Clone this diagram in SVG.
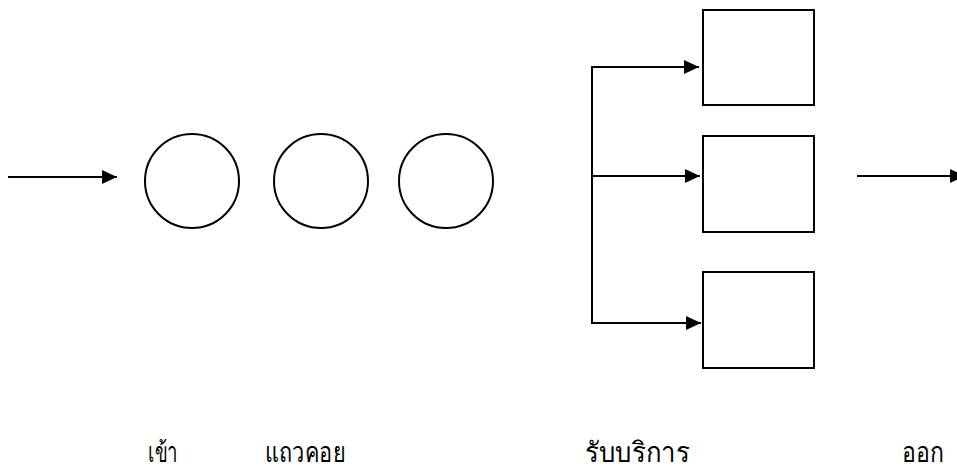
<svg xmlns="http://www.w3.org/2000/svg" width="957" height="471" viewBox="0 0 957 471">
<style>
.ln{stroke:#000;stroke-width:2;fill:none}
.nd{stroke:#000;stroke-width:2;fill:#fff}
.lb{font-family:"Noto Sans","DejaVu Sans",sans-serif;font-size:28px;fill:#000}
</style>
<defs>
<marker id="ah" markerUnits="userSpaceOnUse" markerWidth="16" markerHeight="14" refX="15" refY="7" orient="auto">
<path d="M0,0 L15,7 L0,14 z" fill="#000"/>
</marker>
</defs>
<rect width="957" height="471" fill="#fff"/>
<g id="connectors">
<line class="ln" x1="8" y1="177" x2="117" y2="177" marker-end="url(#ah)"/>
<line class="ln" x1="592" y1="67" x2="592" y2="323"/>
<line class="ln" x1="591" y1="67" x2="699" y2="67" marker-end="url(#ah)"/>
<line class="ln" x1="592" y1="176" x2="700" y2="176" marker-end="url(#ah)"/>
<line class="ln" x1="591" y1="323" x2="701" y2="323" marker-end="url(#ah)"/>
<line class="ln" x1="857" y1="176" x2="965" y2="176" marker-end="url(#ah)"/>
</g>
<g id="queue1"><circle class="nd" cx="192" cy="181" r="47"/></g>
<g id="queue2"><circle class="nd" cx="321" cy="181" r="47"/></g>
<g id="queue3"><circle class="nd" cx="446" cy="181" r="47"/></g>
<g id="server1"><rect class="nd" x="703" y="10" width="111" height="95"/></g>
<g id="server2"><rect class="nd" x="703" y="136" width="111" height="96"/></g>
<g id="server3"><rect class="nd" x="703" y="272" width="111" height="96"/></g>
<g id="labels">
<text class="lb" x="148" y="462" textLength="30" lengthAdjust="spacingAndGlyphs">เข้า</text>
<text class="lb" x="265" y="462" textLength="80" lengthAdjust="spacingAndGlyphs">แถวคอย</text>
<text class="lb" x="585" y="462" textLength="105" lengthAdjust="spacingAndGlyphs">รับบริการ</text>
<text class="lb" x="902" y="462" textLength="42" lengthAdjust="spacingAndGlyphs">ออก</text>
</g>
</svg>
